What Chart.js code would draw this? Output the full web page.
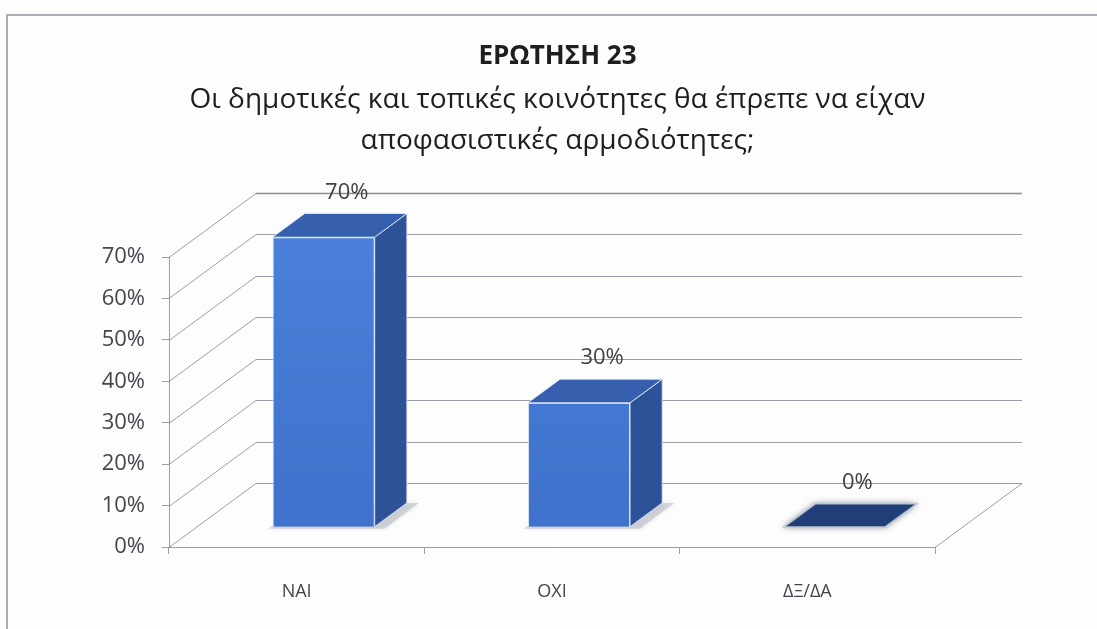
<!DOCTYPE html>
<html>
<head>
<meta charset="utf-8">
<script src="https://cdn.jsdelivr.net/npm/chart.js@4.4.1/dist/chart.umd.min.js"></script>
<style>
    html, body { margin: 0; padding: 0; background: #fcfdfc; }
    #wrap { width: 1097px; height: 629px; }
</style>
</head>
<body>
<div id="wrap"><canvas id="chart-canvas" width="1097" height="629"></canvas></div>
<script>
// data
const categories = ['ΝΑΙ', 'ΟΧΙ', 'ΔΞ/ΔΑ'];
const values = [0.70, 0.30, 0.00];
const yTickLabels = ['0%', '10%', '20%', '30%', '40%', '50%', '60%', '70%'];
const titleText = 'ΕΡΩΤΗΣΗ 23';
const subtitleLines = [
    'Οι δημοτικές και τοπικές κοινότητες θα έπρεπε να είχαν',
    'αποφασιστικές αρμοδιότητες;'
];

// 3d look
const depth = { x: 87, y: -64 };     // floor depth, px
const barFront = 0.31;               // bar front face, fraction of depth
const barBack = 0.68;                // bar back face
const gridColor = 'rgba(130, 135, 150, 0.8)';
const FONT = '"Open Sans", "Noto Sans", sans-serif';

const box3d = {
    id: 'box3d',
    beforeDraw(chart) {
        const ctx = chart.ctx;
        ctx.save();
        ctx.fillStyle = '#fcfdfc';
        ctx.fillRect(0, 0, chart.width, chart.height);
        // outer frame of the scanned chart
        ctx.strokeStyle = '#a9adb6';
        ctx.lineWidth = 2;
        ctx.beginPath();
        ctx.moveTo(7, chart.height);
        ctx.lineTo(7, 15);
        ctx.lineTo(chart.width, 15);
        ctx.stroke();
        ctx.restore();
    },
    beforeDatasetsDraw(chart) {
        const ctx = chart.ctx;
        const area = chart.chartArea;
        const y = chart.scales.y;
        ctx.save();
        y.ticks.forEach((t, i) => {
            const py = Math.round(y.getPixelForValue(t.value)) + 0.5;
            const last = i === y.ticks.length - 1;
            ctx.strokeStyle = gridColor;
            ctx.lineWidth = 1;
            // left wall
            ctx.beginPath();
            ctx.moveTo(area.left, py);
            ctx.lineTo(area.left + depth.x, py + depth.y);
            ctx.stroke();
            // back wall, the top edge a little heavier
            if (last) {
                ctx.strokeStyle = 'rgba(120, 125, 140, 0.85)';
                ctx.lineWidth = 1.6;
            }
            ctx.beginPath();
            ctx.moveTo(area.left + depth.x, py + depth.y);
            ctx.lineTo(area.right + depth.x, py + depth.y);
            ctx.stroke();
        });
        // right edge of the floor
        ctx.strokeStyle = gridColor;
        ctx.lineWidth = 1;
        const by = Math.round(y.getPixelForValue(0)) + 0.5;
        ctx.beginPath();
        ctx.moveTo(area.right, by);
        ctx.lineTo(area.right + depth.x, by + depth.y);
        ctx.stroke();

        // soft shadows on the floor under the bars
        const fx = depth.x * barFront, fy = depth.y * barFront;
        const dx = depth.x * (barBack - barFront), dy = depth.y * (barBack - barFront);
        chart.getDatasetMeta(0).data.forEach((bar, i) => {
            if (values[i] === 0) return;
            const p = bar.getProps(['x', 'base', 'width'], true);
            const l = p.x - p.width / 2 + fx, r = p.x + p.width / 2 + fx, b = p.base + fy;
            ctx.beginPath();
            ctx.moveTo(l - 4, b + 2);
            ctx.lineTo(r + 10, b + 2);
            ctx.lineTo(r + dx + 12, b + dy);
            ctx.lineTo(l + dx, b + dy);
            ctx.closePath();
            ctx.fillStyle = 'rgba(150, 155, 170, 0.35)';
            ctx.shadowColor = 'rgba(150, 155, 170, 0.6)';
            ctx.shadowBlur = 5;
            ctx.fill();
        });
        ctx.restore();

        // push the bar front faces into the box
        ctx.save();
        ctx.translate(fx, fy);
    },
    afterDatasetsDraw(chart) {
        const ctx = chart.ctx;
        ctx.restore();
        const fx = depth.x * barFront, fy = depth.y * barFront;
        const dx = depth.x * (barBack - barFront), dy = depth.y * (barBack - barFront);
        const meta = chart.getDatasetMeta(0);
        meta.data.forEach((bar, i) => {
            const p = bar.getProps(['x', 'y', 'base', 'width'], true);
            const l = p.x - p.width / 2 + fx, r = p.x + p.width / 2 + fx;
            const top = p.y + fy, base = p.base + fy;
            const flat = values[i] === 0;
            ctx.save();
            ctx.lineJoin = 'round';
            ctx.strokeStyle = 'rgba(225, 232, 245, 0.9)';
            ctx.lineWidth = 1;
            if (!flat) {
                // side face
                ctx.beginPath();
                ctx.moveTo(r, top);
                ctx.lineTo(r + dx, top + dy);
                ctx.lineTo(r + dx, base + dy);
                ctx.lineTo(r, base);
                ctx.closePath();
                ctx.fillStyle = '#2d5298';
                ctx.fill();
                ctx.stroke();
            }
            // top face
            ctx.beginPath();
            ctx.moveTo(l, top);
            ctx.lineTo(l + dx, top + dy);
            ctx.lineTo(r + dx, top + dy);
            ctx.lineTo(r, top);
            ctx.closePath();
            if (flat) {
                ctx.shadowColor = 'rgba(120, 120, 130, 0.8)';
                ctx.shadowBlur = 6;
                ctx.fillStyle = '#203f78';
                ctx.fill();
                ctx.shadowBlur = 0;
                ctx.strokeStyle = 'rgba(200, 205, 215, 0.9)';
                ctx.lineWidth = 2;
            } else {
                ctx.fillStyle = '#365fad';
                ctx.fill();
            }
            ctx.stroke();

            // value label
            ctx.fillStyle = '#3f3f46';
            ctx.font = '22px ' + FONT;
            ctx.textAlign = 'center';
            ctx.textBaseline = 'middle';
            ctx.fillText(Math.round(values[i] * 100) + '%', p.x + fx + dx / 2 + 7, top + dy - 21);
            ctx.restore();
        });
    }
};

const ctx = document.getElementById('chart-canvas');
const graph = new Chart(ctx, {
    type: 'bar',
    data: {
        labels: categories,
        datasets: [{
            data: values,
            backgroundColor: function (c) {
                const area = c.chart.chartArea;
                if (!area) return '#4479d3';
                const g = c.chart.ctx.createLinearGradient(0, area.top, 0, area.bottom);
                g.addColorStop(0, '#4a80d9');
                g.addColorStop(1, '#3e72cc');
                return g;
            },
            borderColor: 'rgba(225, 232, 245, 0.9)',
            borderWidth: 1,
            barPercentage: 0.4,
            categoryPercentage: 1
        }]
    },
    options: {
        responsive: false,
        animation: false,
        devicePixelRatio: 1,
        layout: {
            padding: { left: 18, right: 0, top: 0, bottom: 0 }
        },
        plugins: {
            legend: { display: false },
            tooltip: { enabled: false },
            title: {
                display: true,
                text: titleText,
                color: '#1e1e1e',
                font: { family: FONT, size: 26, weight: 'bold', lineHeight: 1.2 },
                padding: { top: 41.4, bottom: 0 }
            },
            subtitle: {
                display: true,
                text: subtitleLines,
                color: '#1e1e1e',
                font: { family: FONT, size: 28, lineHeight: 41 / 28 },
                padding: { top: 6.9, bottom: 95.5 }
            }
        },
        scales: {
            x: {
                afterFit: s => { s.height = 82; },
                grid: {
                    drawOnChartArea: false,
                    drawTicks: true,
                    tickLength: 7,
                    color: gridColor,
                    offset: true
                },
                border: { display: true, color: gridColor },
                ticks: {
                    color: '#45454d',
                    font: { family: FONT, size: 18 },
                    padding: 27
                }
            },
            y: {
                min: 0,
                max: 0.7,
                afterFit: s => { s.width = 151; },
                grid: {
                    drawOnChartArea: false,
                    drawTicks: true,
                    tickLength: 7,
                    color: gridColor
                },
                border: { display: true, color: gridColor },
                ticks: {
                    stepSize: 0.1,
                    color: '#45454d',
                    font: { family: FONT, size: 22 },
                    padding: 17,
                    callback: (v, i) => yTickLabels[i]
                }
            },
            // empty room on the right for the depth of the box
            spacer: {
                type: 'linear',
                position: 'right',
                display: true,
                afterFit: s => { s.width = 162; },
                grid: { display: false },
                border: { display: false },
                ticks: { display: false }
            }
        }
    },
    plugins: [box3d]
});
</script>
</body>
</html>
